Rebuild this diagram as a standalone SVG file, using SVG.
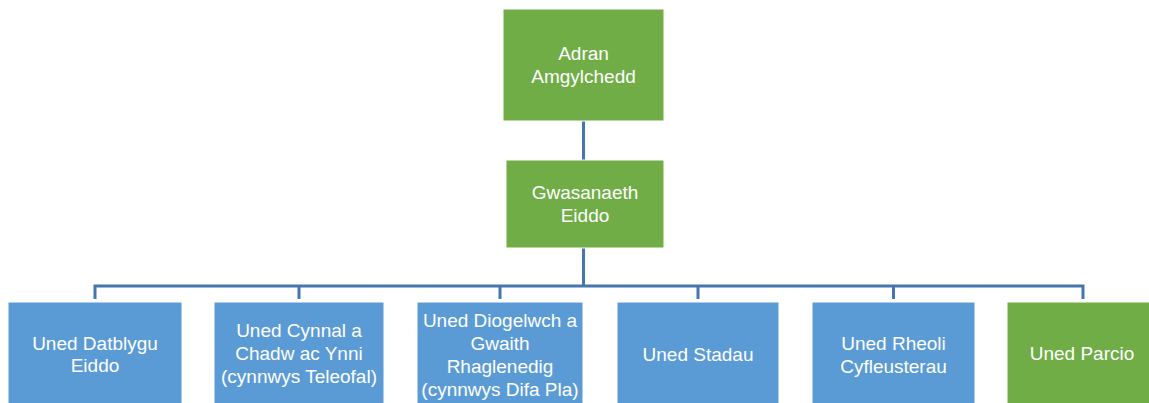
<svg xmlns="http://www.w3.org/2000/svg" width="1149" height="403" viewBox="0 0 1149 403">
<style>
.g{fill:#70AD47;stroke:#fff;stroke-width:1}
.b{fill:#5B9BD5;stroke:#fff;stroke-width:1}
.t{font-family:"Liberation Sans",Arial,sans-serif;font-size:19px;fill:#fff;text-anchor:middle}
.c{fill:none;stroke:#4576B0;stroke-width:3}
</style>
<rect width="1149" height="403" fill="#fff"/>
<g id="connectors">
<path class="c" d="M583.5 121V160M583.5 248V286"/>
<path class="c" d="M95 299V286H1083V299M299 286V299M500 286V299M698 286V299M893.5 286V299" stroke-width="2.2"/>
</g>
<g id="n-adran">
<rect class="g" x="503" y="9" width="161" height="112"/>
<text class="t" x="583.5" y="60">Adran</text>
<text class="t" x="583.5" y="83">Amgylchedd</text>
</g>
<g id="n-gwasanaeth">
<rect class="g" x="506" y="160" width="158" height="88"/>
<text class="t" x="585" y="199">Gwasanaeth</text>
<text class="t" x="585" y="222">Eiddo</text>
</g>
<g id="n-datblygu">
<rect class="b" x="8" y="302" width="174" height="110"/>
<text class="t" x="95" y="350">Uned Datblygu</text>
<text class="t" x="95" y="372">Eiddo</text>
</g>
<g id="n-cynnal">
<rect class="b" x="214" y="302" width="170" height="110"/>
<text class="t" x="299" y="337">Uned Cynnal a</text>
<text class="t" x="299" y="360">Chadw ac Ynni</text>
<text class="t" x="299" y="383">(cynnwys Teleofal)</text>
</g>
<g id="n-diogelwch">
<rect class="b" x="417" y="302" width="166" height="110"/>
<text class="t" x="500" y="327">Uned Diogelwch a</text>
<text class="t" x="500" y="350">Gwaith</text>
<text class="t" x="500" y="373">Rhaglenedig</text>
<text class="t" x="500" y="396">(cynnwys Difa Pla)</text>
</g>
<g id="n-stadau">
<rect class="b" x="617" y="302" width="162" height="110"/>
<text class="t" x="698" y="361">Uned Stadau</text>
</g>
<g id="n-rheoli">
<rect class="b" x="812" y="302" width="163" height="110"/>
<text class="t" x="893.5" y="350">Uned Rheoli</text>
<text class="t" x="893.5" y="373">Cyfleusterau</text>
</g>
<g id="n-parcio">
<rect class="g" x="1007" y="302" width="152" height="110"/>
<text class="t" x="1082" y="360">Uned Parcio</text>
</g>
</svg>
